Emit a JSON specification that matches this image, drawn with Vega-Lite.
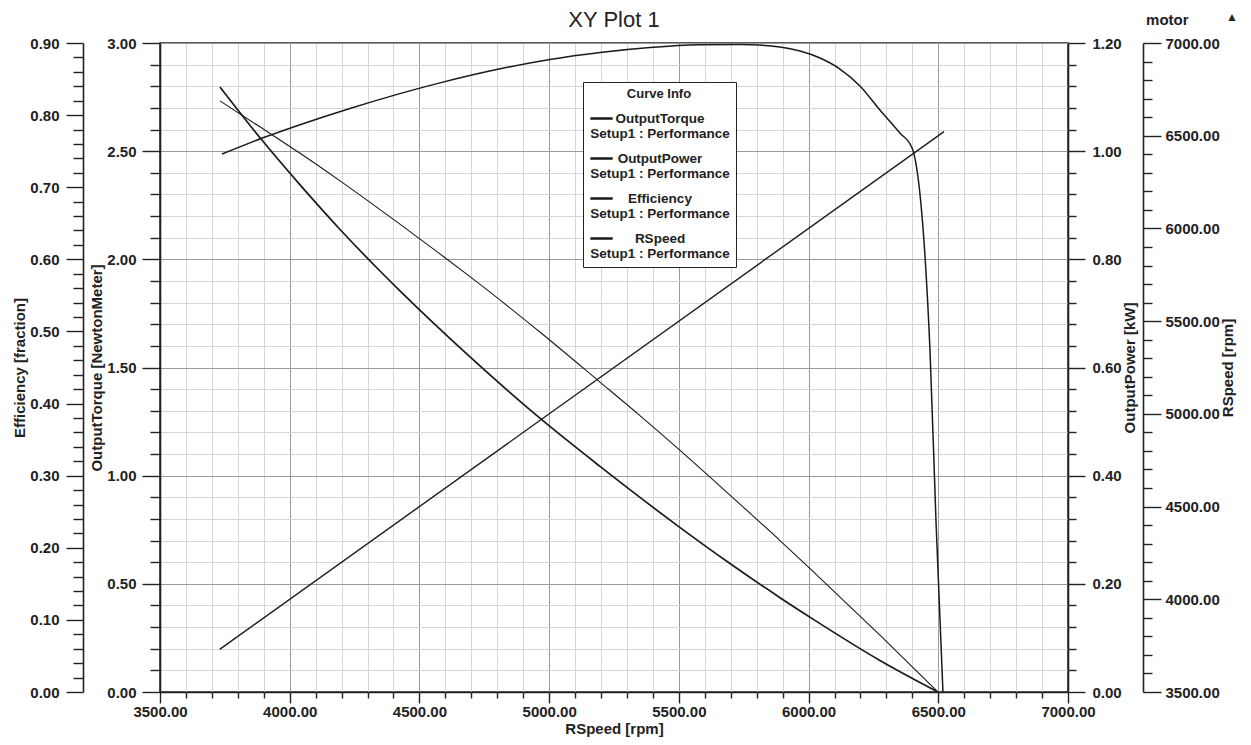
{
  "$schema": "https://vega.github.io/schema/vega-lite/v6.json",
  "width": 908,
  "height": 649,
  "autosize": {"type": "none"},
  "padding": {"left": 160, "top": 43, "right": 183, "bottom": 53},
  "background": "white",
  "title": {"text": "XY Plot 1", "fontSize": 22, "fontWeight": "normal", "frame": "group", "anchor": "middle", "offset": 10, "dy": 31, "color": "#222"},
  "config": {
    "font": "Liberation Sans",
    "view": {"stroke": "#222", "strokeWidth": 1.5},
    "axis": {
      "domainColor": "#222", "domainWidth": 1.6, "tickColor": "#222", "tickWidth": 1.4,
      "labelColor": "#222", "labelFontSize": 15, "labelFontWeight": "bold", "labelFlush": false, "labelOverlap": false,
      "titleColor": "#222", "titleFontSize": 15, "titleFontWeight": "bold"
    }
  },
  "data": {"values": [
    {"curve": "OutputTorque", "rpm": 3731, "value": 2.797},
    {"curve": "OutputTorque", "rpm": 3885, "value": 2.563},
    {"curve": "OutputTorque", "rpm": 4040, "value": 2.344},
    {"curve": "OutputTorque", "rpm": 4194, "value": 2.138},
    {"curve": "OutputTorque", "rpm": 4348, "value": 1.946},
    {"curve": "OutputTorque", "rpm": 4425, "value": 1.854},
    {"curve": "OutputTorque", "rpm": 4695, "value": 1.549},
    {"curve": "OutputTorque", "rpm": 4976, "value": 1.254},
    {"curve": "OutputTorque", "rpm": 5196, "value": 1.043},
    {"curve": "OutputTorque", "rpm": 5497, "value": 0.767},
    {"curve": "OutputTorque", "rpm": 5697, "value": 0.594},
    {"curve": "OutputTorque", "rpm": 5890, "value": 0.436},
    {"curve": "OutputTorque", "rpm": 6017, "value": 0.337},
    {"curve": "OutputTorque", "rpm": 6275, "value": 0.146},
    {"curve": "OutputTorque", "rpm": 6499, "value": 0.0},
    {"curve": "OutputPower", "rpm": 3731, "value": 1.093},
    {"curve": "OutputPower", "rpm": 3885, "value": 1.045},
    {"curve": "OutputPower", "rpm": 4040, "value": 0.996},
    {"curve": "OutputPower", "rpm": 4194, "value": 0.945},
    {"curve": "OutputPower", "rpm": 4348, "value": 0.892},
    {"curve": "OutputPower", "rpm": 4425, "value": 0.865},
    {"curve": "OutputPower", "rpm": 4579, "value": 0.810},
    {"curve": "OutputPower", "rpm": 4695, "value": 0.768},
    {"curve": "OutputPower", "rpm": 4976, "value": 0.661},
    {"curve": "OutputPower", "rpm": 5196, "value": 0.573},
    {"curve": "OutputPower", "rpm": 5350, "value": 0.511},
    {"curve": "OutputPower", "rpm": 5497, "value": 0.450},
    {"curve": "OutputPower", "rpm": 5697, "value": 0.364},
    {"curve": "OutputPower", "rpm": 5890, "value": 0.280},
    {"curve": "OutputPower", "rpm": 6017, "value": 0.223},
    {"curve": "OutputPower", "rpm": 6275, "value": 0.105},
    {"curve": "OutputPower", "rpm": 6499, "value": 0.0},
    {"curve": "Efficiency", "rpm": 3739, "value": 0.746},
    {"curve": "Efficiency", "rpm": 3897, "value": 0.7685},
    {"curve": "Efficiency", "rpm": 4040, "value": 0.7867},
    {"curve": "Efficiency", "rpm": 4232, "value": 0.8092},
    {"curve": "Efficiency", "rpm": 4579, "value": 0.8447},
    {"curve": "Efficiency", "rpm": 4811, "value": 0.8642},
    {"curve": "Efficiency", "rpm": 5003, "value": 0.8771},
    {"curve": "Efficiency", "rpm": 5196, "value": 0.8868},
    {"curve": "Efficiency", "rpm": 5389, "value": 0.8937},
    {"curve": "Efficiency", "rpm": 5582, "value": 0.8975},
    {"curve": "Efficiency", "rpm": 5736, "value": 0.898},
    {"curve": "Efficiency", "rpm": 5890, "value": 0.8944},
    {"curve": "Efficiency", "rpm": 5967, "value": 0.8889},
    {"curve": "Efficiency", "rpm": 6044, "value": 0.8792},
    {"curve": "Efficiency", "rpm": 6121, "value": 0.8639},
    {"curve": "Efficiency", "rpm": 6198, "value": 0.8404},
    {"curve": "Efficiency", "rpm": 6275, "value": 0.8071},
    {"curve": "Efficiency", "rpm": 6352, "value": 0.7752},
    {"curve": "Efficiency", "rpm": 6399, "value": 0.7544},
    {"curve": "Efficiency", "rpm": 6468, "value": 0.4743},
    {"curve": "Efficiency", "rpm": 6491, "value": 0.2385},
    {"curve": "Efficiency", "rpm": 6518, "value": 0.0},
    {"curve": "RSpeed", "rpm": 3730, "value": 3730},
    {"curve": "RSpeed", "rpm": 6522, "value": 6522}
  ]},
  "encoding": {
    "x": {
      "field": "rpm", "type": "quantitative",
      "scale": {"domain": [3500, 7000], "nice": false, "zero": false},
      "axis": {
        "title": "RSpeed [rpm]", "titlePadding": 2,
        "values": [3500,3600,3700,3800,3900,4000,4100,4200,4300,4400,4500,4600,4700,4800,4900,5000,5100,5200,5300,5400,5500,5600,5700,5800,5900,6000,6100,6200,6300,6400,6500,6600,6700,6800,6900,7000],
        "labelExpr": "datum.value % 500 === 0 ? format(datum.value, '.2f') : ''",
        "tickSize": {"condition": {"test": "datum.value % 500 === 0", "value": 11}, "value": 6},
        "labelPadding": 1,
        "grid": true,
        "gridColor": {"condition": {"test": "datum.value % 500 === 0", "value": "#9a9a9a"}, "value": "#d6d6d6"},
        "gridWidth": 1
      }
    }
  },
  "layer": [
    {
      "transform": [{"filter": "datum.curve === 'OutputTorque'"}],
      "mark": {"type": "line", "strokeWidth": 1.7, "interpolate": "monotone"},
      "encoding": {
        "y": {
          "field": "value", "type": "quantitative",
          "scale": {"domain": [0, 3], "nice": false},
          "axis": {
            "orient": "left", "offset": 0, "title": "OutputTorque [NewtonMeter]", "titlePadding": 2,
            "values": [0,0.1,0.2,0.3,0.4,0.5,0.6,0.7,0.8,0.9,1,1.1,1.2,1.3,1.4,1.5,1.6,1.7,1.8,1.9,2,2.1,2.2,2.3,2.4,2.5,2.6,2.7,2.8,2.9,3],
            "labelExpr": "round(datum.value*100) % 50 === 0 ? format(datum.value, '.2f') : ''",
            "tickSize": {"condition": {"test": "round(datum.value*100) % 50 === 0", "value": 18}, "value": 10},
            "labelPadding": 6,
            "grid": true,
            "gridColor": {"condition": {"test": "round(datum.value*100) % 50 === 0", "value": "#9a9a9a"}, "value": "#d6d6d6"},
            "gridWidth": 1
          }
        },
        "color": {
          "field": "curve", "type": "nominal",
          "scale": {"domain": ["OutputTorque", "OutputPower", "Efficiency", "RSpeed"], "range": ["#1a1a1a", "#1a1a1a", "#1a1a1a", "#1a1a1a"]},
          "legend": {
            "title": "Curve Info", "orient": "none", "legendX": 423, "legendY": 39,
            "titleAnchor": "middle", "titleFontSize": 13, "titleFontWeight": "bold", "titleColor": "#222", "titlePadding": 5,
            "labelExpr": "[datum.label, 'Setup1 : Performance']",
            "labelFontSize": 13.5, "labelFontWeight": "bold", "labelColor": "#222", "labelAlign": "center", "labelOffset": 46, "labelLimit": 300,
            "symbolType": "stroke", "symbolSize": 500, "symbolStrokeWidth": 2.5,
            "rowPadding": 5, "padding": 6, "strokeColor": "#222", "fillColor": "white", "cornerRadius": 0
          }
        }
      }
    },
    {
      "transform": [{"filter": "datum.curve === 'OutputPower'"}],
      "mark": {"type": "line", "strokeWidth": 1.1, "interpolate": "monotone"},
      "encoding": {
        "y": {
          "field": "value", "type": "quantitative",
          "scale": {"domain": [0, 1.2], "nice": false},
          "axis": {
            "orient": "right", "offset": 0, "title": "OutputPower [kW]", "titleAngle": 270, "titleBaseline": "top", "titlePadding": 1,
            "values": [0,0.04,0.08,0.12,0.16,0.2,0.24,0.28,0.32,0.36,0.4,0.44,0.48,0.52,0.56,0.6,0.64,0.68,0.72,0.76,0.8,0.84,0.88,0.92,0.96,1,1.04,1.08,1.12,1.16,1.2],
            "labelExpr": "round(datum.value*100) % 20 === 0 ? format(datum.value, '.2f') : ''",
            "tickSize": {"condition": {"test": "round(datum.value*100) % 20 === 0", "value": 17}, "value": 8},
            "labelPadding": 7,
            "grid": false
          }
        },
        "color": {
          "field": "curve", "type": "nominal",
          "scale": {"domain": ["OutputTorque", "OutputPower", "Efficiency", "RSpeed"], "range": ["#1a1a1a", "#1a1a1a", "#1a1a1a", "#1a1a1a"]}
        }
      }
    },
    {
      "transform": [{"filter": "datum.curve === 'Efficiency'"}],
      "mark": {"type": "line", "strokeWidth": 1.5, "interpolate": "monotone"},
      "encoding": {
        "y": {
          "field": "value", "type": "quantitative",
          "scale": {"domain": [0, 0.9], "nice": false},
          "axis": {
            "orient": "left", "offset": 77, "title": "Efficiency [fraction]", "titlePadding": 2,
            "values": [0,0.02,0.04,0.06,0.08,0.1,0.12,0.14,0.16,0.18,0.2,0.22,0.24,0.26,0.28,0.3,0.32,0.34,0.36,0.38,0.4,0.42,0.44,0.46,0.48,0.5,0.52,0.54,0.56,0.58,0.6,0.62,0.64,0.66,0.68,0.7,0.72,0.74,0.76,0.78,0.8,0.82,0.84,0.86,0.88,0.9],
            "labelExpr": "round(datum.value*100) % 10 === 0 ? format(datum.value, '.2f') : ''",
            "tickSize": {"condition": {"test": "round(datum.value*100) % 10 === 0", "value": 17}, "value": 10},
            "labelPadding": 7,
            "grid": false
          }
        },
        "color": {
          "field": "curve", "type": "nominal",
          "scale": {"domain": ["OutputTorque", "OutputPower", "Efficiency", "RSpeed"], "range": ["#1a1a1a", "#1a1a1a", "#1a1a1a", "#1a1a1a"]}
        }
      }
    },
    {
      "transform": [{"filter": "datum.curve === 'RSpeed'"}],
      "mark": {"type": "line", "strokeWidth": 1.4},
      "encoding": {
        "y": {
          "field": "value", "type": "quantitative",
          "scale": {"domain": [3500, 7000], "nice": false, "zero": false},
          "axis": {
            "orient": "right", "offset": 75, "title": "RSpeed [rpm]", "titleAngle": 270, "titleBaseline": "top", "titlePadding": 1,
            "values": [3500,3600,3700,3800,3900,4000,4100,4200,4300,4400,4500,4600,4700,4800,4900,5000,5100,5200,5300,5400,5500,5600,5700,5800,5900,6000,6100,6200,6300,6400,6500,6600,6700,6800,6900,7000],
            "labelExpr": "datum.value % 500 === 0 ? format(datum.value, '.2f') : ''",
            "tickSize": {"condition": {"test": "datum.value % 500 === 0", "value": 18}, "value": 9},
            "labelPadding": 4,
            "grid": false
          }
        },
        "color": {
          "field": "curve", "type": "nominal",
          "scale": {"domain": ["OutputTorque", "OutputPower", "Efficiency", "RSpeed"], "range": ["#1a1a1a", "#1a1a1a", "#1a1a1a", "#1a1a1a"]}
        }
      }
    },
    {
      "data": {"values": [{"rpm": 7383, "value": 7124, "label": "motor"}]},
      "mark": {"type": "text", "fontSize": 15, "fontWeight": "bold", "color": "#222", "baseline": "middle", "align": "center"},
      "encoding": {
        "y": {"field": "value", "type": "quantitative", "axis": null, "scale": {"domain": [3500, 7000], "nice": false, "zero": false}},
        "text": {"field": "label"}
      }
    },
    {
      "data": {"values": [{"rpm": 7632, "value": 7140, "label": "▲"}]},
      "mark": {"type": "text", "fontSize": 12, "color": "#222", "baseline": "middle", "align": "center"},
      "encoding": {
        "y": {"field": "value", "type": "quantitative", "axis": null, "scale": {"domain": [3500, 7000], "nice": false, "zero": false}},
        "text": {"field": "label"}
      }
    }
  ],
  "resolve": {"scale": {"y": "independent"}}
}
